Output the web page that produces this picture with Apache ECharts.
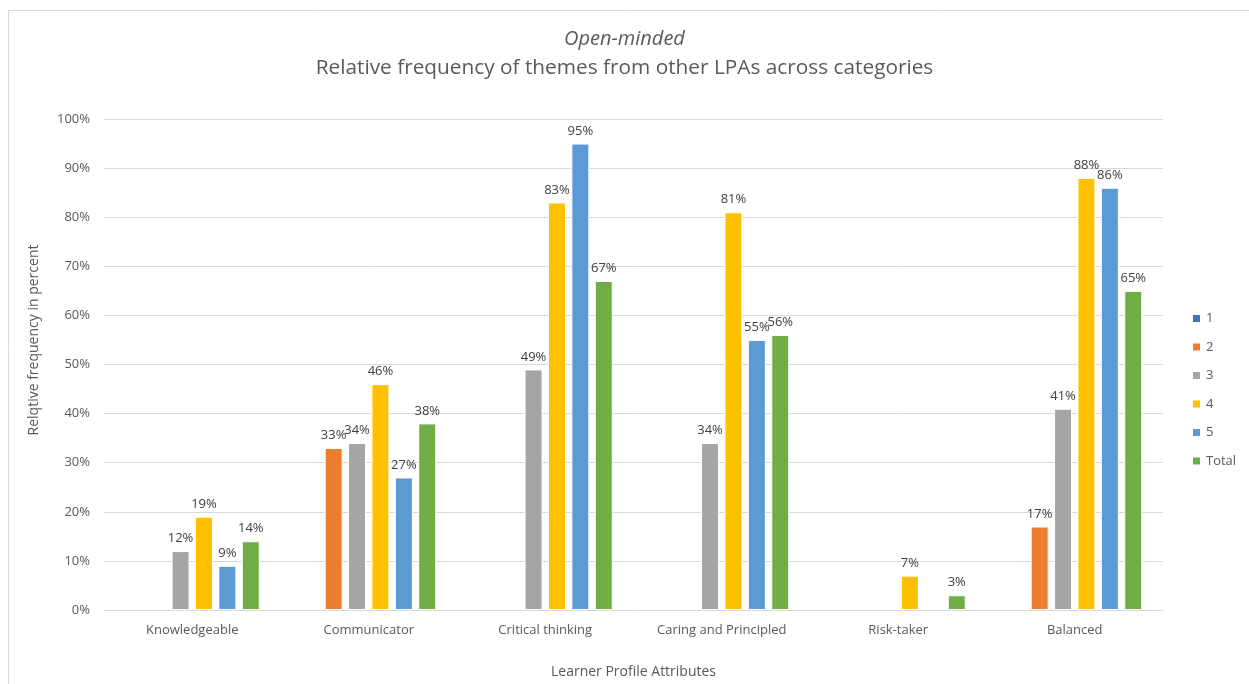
<!DOCTYPE html>
<html><head><meta charset="utf-8">
<script src="https://cdn.jsdelivr.net/npm/echarts@6/dist/echarts.min.js"></script>
<style>html,body{margin:0;padding:0;background:#fff}#c{width:1249px;height:684px}</style>
</head><body><div id="c"></div>
<script>
const categories = ['Knowledgeable','Communicator','Critical thinking','Caring and Principled','Risk-taker','Balanced'];
const seriesNames = ['1','2','3','4','5','Total'];
const s1 = [null,null,null,null,null,null];
const s2 = [null,33,null,null,null,17];
const s3 = [12,34,49,34,null,41];
const s4 = [19,46,83,81,7,88];
const s5 = [9,27,95,55,null,86];
const sTotal = [14,38,67,56,3,65];
const colors = ['#4472C4','#ED7D31','#A5A5A5','#FFC000','#5B9BD5','#70AD47'];
const yTicks = [0,10,20,30,40,50,60,70,80,90,100];

const font = '"Open Sans", "Liberation Sans", sans-serif';
const chart = echarts.init(document.getElementById('c'), null, {renderer:'canvas'});
const all = [s1,s2,s3,s4,s5,sTotal];
chart.setOption({
  animation:false,
  color:colors,
  textStyle:{fontFamily:font},
  title:[
    {text:'Open-minded', left:'center', top:24, textStyle:{fontFamily:font, fontSize:20, fontWeight:'normal', fontStyle:'italic', color:'#595959'}},
    {text:'Relative frequency of themes from other LPAs across categories', left:'center', top:53, textStyle:{fontFamily:font, fontSize:20.8, fontWeight:'normal', color:'#595959'}}
  ],
  graphic:[
    {type:'rect', shape:{x:8.5,y:10.5,width:1260,height:700}, style:{fill:'none', stroke:'#d9d9d9', lineWidth:1}, silent:true},
    {type:'text', x:34, y:340, rotation:Math.PI/2, style:{text:'Relqtive frequency in percent', font:'14px '+font, fill:'#595959', align:'center', verticalAlign:'middle'}}
  ],
  legend:{
    orient:'vertical', left:1186, top:307, itemWidth:9, itemHeight:9, itemGap:15.5,
    icon:'rect', textStyle:{fontFamily:font, fontSize:13, color:'#595959'},
    data:seriesNames
  },
  grid:{left:104, right:86, top:119, bottom:68, containLabel:false},
  xAxis:{
    type:'category', data:categories,
    name:'Learner Profile Attributes', nameLocation:'middle', nameGap:55,
    nameTextStyle:{fontFamily:font, fontSize:14, color:'#595959'},
    axisLine:{lineStyle:{color:'#d9d9d9'}}, axisTick:{show:false},
    axisLabel:{fontFamily:font, fontSize:13, color:'#595959', margin:14}
  },
  yAxis:{
    type:'value', min:0, max:100, interval:10,
    axisLabel:{fontFamily:font, fontSize:13, color:'#595959', margin:14, formatter:v=>v+'%'},
    splitLine:{lineStyle:{color:'#d9d9d9'}},
    axisLine:{show:false}, axisTick:{show:false}
  },
  series: seriesNames.map((n,i)=>({
    name:n, type:'bar', data:all[i], barWidth:18, barGap:'30%',
    itemStyle:{color:colors[i], borderColor:'#fff', borderWidth:1},
    label:{show:true, position:'top', distance:6, formatter:p=>p.value==null?'':p.value+'%', fontFamily:font, fontSize:13, color:'#404040'}
  }))
});
</script></body></html>
